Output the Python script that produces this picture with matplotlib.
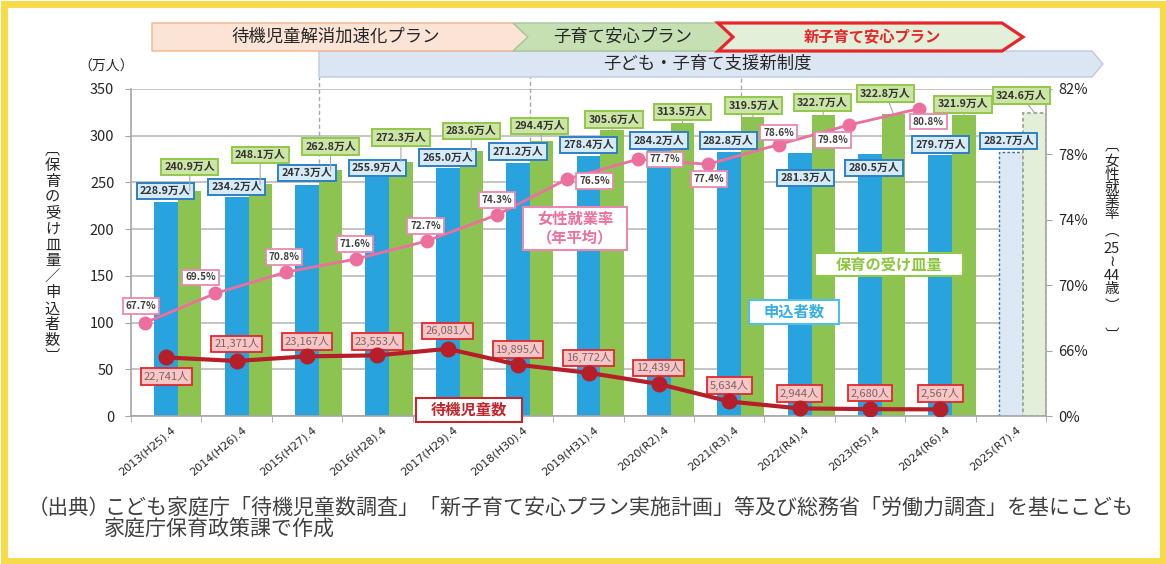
import numpy as np
import matplotlib.pyplot as plt
from matplotlib.patches import Polygon, Rectangle
from matplotlib.transforms import blended_transform_factory

plt.rcParams['font.family'] = ['Noto Sans CJK JP', 'DejaVu Sans']

# data
years = ['2013(H25).4', '2014(H26).4', '2015(H27).4', '2016(H28).4', '2017(H29).4',
         '2018(H30).4', '2019(H31).4', '2020(R2).4', '2021(R3).4', '2022(R4).4',
         '2023(R5).4', '2024(R6).4', '2025(R7).4']
applicants = [228.9, 234.2, 247.3, 255.9, 265.0, 271.2, 278.4, 284.2, 282.8, 281.3, 280.5, 279.7, 282.7]
capacity = [240.9, 248.1, 262.8, 272.3, 283.6, 294.4, 305.6, 313.5, 319.5, 322.7, 322.8, 321.9, 324.6]
female_rate = [67.7, 69.5, 70.8, 71.6, 72.7, 74.3, 76.5, 77.7, 77.4, 78.6, 79.8, 80.8]
waiting = [22741, 21371, 23167, 23553, 26081, 19895, 16772, 12439, 5634, 2944, 2680, 2567]

# label offsets in pixels (dx, dy) from each mark
blue_dx = [-1, 0, 0, 0, 0, 0, 0, 0, -1, 6, 4, 0, -2]
blue_dy = [11, 10, 12, 9, 11, 11, 11, 10, 11, -25, -14, 10, 11]
green_dx = [0, 0, 0, 0, 0, -2, 2, 0, 1, -1, -8, -1, -13]
green_dy = [24, 29, 24, 24, 20, 15, 11, 11, 12, 12, 21, 11, 17]
pink_dx = [-4, -15, -2, -1, -1, 0, 27, 27, 1, 0, -16, 9]
pink_dy = [17, 16, 15, 15, 15, 15, -2, 0, -15, 12, -15, -13]
red_dy = [-19, 17, 15, 14, 18, 15, 15, 16, 16, 15, 16, 16]

BLUE = '#29a3dd'
GREEN = '#8dc451'
PINK = '#ec6f9d'
RED = '#b61f29'
TXT = '#262626'

W, H = 1166, 564


def fx(p):
    return p / W


def fy(p):
    return 1 - p / H


fig = plt.figure(figsize=(W / 100, H / 100), dpi=100)
fig.patch.set_facecolor('white')

ax = fig.add_axes([fx(131), fy(416), (1046 - 131) / W, (416 - 89) / H])
x = np.arange(len(years))

# bars (last year is the plan, drawn pale and dashed)
ax.bar(x[:-1], applicants[:-1], 0.34, color=BLUE, zorder=2)
ax.bar(x[:-1] + 0.335, capacity[:-1], 0.33, color=GREEN, zorder=2)
ax.bar(x[-1], applicants[-1], 0.34, color='#dce9f5', edgecolor='#2e75b6',
       linestyle=(0, (2, 1.5)), linewidth=1, zorder=2)
ax.bar(x[-1] + 0.335, capacity[-1], 0.33, color='#e3efd9', edgecolor='#9aa58c',
       linestyle=(0, (2, 1.5)), linewidth=1.3, zorder=2)

ax.set_xlim(-0.5, 12.5)
ax.set_ylim(0, 350)
ax.set_yticks(np.arange(0, 351, 50))
ax.yaxis.grid(True, color='#c4c4c4', lw=1.4)
ax.set_axisbelow(True)
ax.set_xticks([])
ax.set_xticks(np.arange(-0.5, 13, 1), minor=True)
ax.tick_params(axis='x', which='minor', length=4, color='#a6a6a6')
ax.tick_params(axis='y', length=4, color='#a6a6a6', labelsize=10.5, pad=8, labelcolor=TXT)
for s in ['top', 'right']:
    ax.spines[s].set_visible(False)
for s in ['left', 'bottom']:
    ax.spines[s].set_color('#a6a6a6')
    ax.spines[s].set_linewidth(1.2)

tr = blended_transform_factory(ax.transData, ax.transAxes)
for i, lab in enumerate(years):
    ax.text(i + 0.07, -0.027, lab, transform=tr, rotation=40, ha='right', va='top',
            rotation_mode='anchor', fontsize=8, color=TXT, family='DejaVu Sans')

# dashed boundaries for the policy periods
for i in [2, 5, 8]:
    ax.plot([i + 0.165, i + 0.165], [capacity[i], 363], ls=(0, (3, 2)), color='#a8a8a8',
            lw=1, clip_on=False, zorder=1)

# female employment rate (right axis)
ax2 = ax.twinx()
ax2.set_ylim(62, 82)
ax2.set_yticks([62, 66, 70, 74, 78, 82], ['0%', '66%', '70%', '74%', '78%', '82%'])
ax2.tick_params(axis='y', length=4, color='#a6a6a6', labelsize=10.5, pad=5, labelcolor=TXT)
for s in ['top', 'left', 'bottom']:
    ax2.spines[s].set_visible(False)
ax2.spines['right'].set_color('#a6a6a6')
ax2.spines['right'].set_linewidth(1.2)
ax2.plot(x[:len(female_rate)] - 0.3, female_rate, color=PINK, lw=2, marker='o', ms=9, zorder=4)

# waiting children
ax3 = ax.twinx()
ax3.set_ylim(0, 127000)
ax3.axis('off')
ax3.plot(x[:len(waiting)], waiting, color=RED, lw=3, marker='o', ms=10.5, zorder=4)

# data labels
for i in range(len(years)):
    ax3.annotate(f'{applicants[i]:.1f}万人', xy=(x[i], applicants[i]), xycoords=ax.transData,
                 xytext=(blue_dx[i], blue_dy[i]), textcoords='offset pixels',
                 ha='center', va='center', fontsize=7.8, fontweight='bold', color='#333333',
                 bbox=dict(boxstyle='square,pad=0.3', fc='#d6ebf9', ec='#2f80c4', lw=1.4))
    ax3.annotate(f'{capacity[i]:.1f}万人', xy=(x[i] + 0.335, capacity[i]), xycoords=ax.transData,
                 xytext=(green_dx[i], green_dy[i]), textcoords='offset pixels',
                 ha='center', va='center', fontsize=7.8, fontweight='bold', color='#333333',
                 bbox=dict(boxstyle='square,pad=0.3', fc='#cce4a6', ec='#92c84a', lw=1.4),
                 arrowprops=dict(arrowstyle='-', color='#a8a8a8', lw=0.8, shrinkA=0, shrinkB=0))

for i, v in enumerate(female_rate):
    ax3.annotate(f'{v:.1f}%', xy=(x[i] - 0.3, v), xycoords=ax2.transData,
                 xytext=(pink_dx[i], pink_dy[i]), textcoords='offset pixels',
                 ha='center', va='center', fontsize=7.2, fontweight='bold', color='#404040',
                 bbox=dict(boxstyle='square,pad=0.28', fc='white', ec='#e889b0', lw=1.3))

for i, v in enumerate(waiting):
    ax3.annotate(f'{v:,}人', xy=(x[i], v), xycoords=ax3.transData,
                 xytext=(0, red_dy[i]), textcoords='offset pixels',
                 ha='center', va='center', fontsize=8, color='#806262',
                 bbox=dict(boxstyle='square,pad=0.25', fc='#f8c6c7', ec='#e3272d', lw=1.3))


# boxes and banners in pixel coordinates
def pbox(x0, y0, x1, y1, fc, ec, lw, z=2):
    fig.add_artist(Rectangle((fx(x0), fy(y1)), (x1 - x0) / W, (y1 - y0) / H,
                             transform=fig.transFigure, fc=fc, ec=ec, lw=lw, zorder=z))


def ppoly(pts, fc, ec, lw, z=1):
    fig.add_artist(Polygon([(fx(a), fy(b)) for a, b in pts], closed=True,
                           transform=fig.transFigure, fc=fc, ec=ec, lw=lw, zorder=z))


pbox(523, 207, 627, 250, 'white', '#e889b0', 1.5)
fig.text(fx(575), fy(228), '女性就業率\n（年平均）', ha='center', va='center', fontsize=11,
         fontweight='bold', color=PINK, linespacing=1.15, zorder=3)
pbox(416, 398, 522, 422, 'white', '#c0272d', 1.5)
fig.text(fx(469), fy(410), '待機児童数', ha='center', va='center', fontsize=11,
         fontweight='bold', color='#c0272d', zorder=3)
pbox(749, 300, 839, 324, 'white', '#52bde8', 1.5)
fig.text(fx(794), fy(312), '申込者数', ha='center', va='center', fontsize=11,
         fontweight='bold', color='#3aaee0', zorder=3)
pbox(815, 253, 963, 276, 'white', '#92c84a', 1.5)
fig.text(fx(889), fy(265), '保育の受け皿量', ha='center', va='center', fontsize=11,
         fontweight='bold', color='#8cc63f', zorder=3)

ppoly([(319, 51), (1092, 51), (1103, 64), (1092, 77), (319, 77)], '#dce6f2', '#b9cbe4', 1)
ppoly([(152, 23), (513, 23), (528, 37), (513, 51), (152, 51)], '#fbe4d6', '#f2b48c', 1)
ppoly([(513, 23), (718, 23), (733, 37), (718, 51), (513, 51), (528, 37)], '#c6e0b4', '#a7c596', 1)
ppoly([(718, 23), (1002, 23), (1023, 37), (1002, 51), (718, 51), (733, 37)], '#e2f0d9', '#e8262a', 2.3)
fig.text(fx(336), fy(37), '待機児童解消加速化プラン', ha='center', va='center', fontsize=12.5,
         color=TXT, zorder=3)
fig.text(fx(623), fy(37), '子育て安心プラン', ha='center', va='center', fontsize=12.5,
         color=TXT, zorder=3)
fig.text(fx(872), fy(37), '新子育て安心プラン', ha='center', va='center', fontsize=11,
         fontweight='bold', color='#e8262a', zorder=3)
fig.text(fx(707), fy(64), '子ども・子育て支援新制度', ha='center', va='center', fontsize=12.5,
         color=TXT, zorder=3)

fig.text(fx(106), fy(67), '（万人）', ha='center', va='center', fontsize=10, color=TXT)


# vertical axis titles, written as stacked columns with vertical bracket forms
def vtext(xp, yp, rows, size, ls=1.0):
    fig.text(fx(xp), fy(yp), '\n'.join(rows), ha='center', va='center', fontsize=size,
             color=TXT, linespacing=ls)


vtext(52.5, 253, ['︹'] + list('保育の受け皿量／申込者数') + ['︺'], 11, 0.92)

vtext(1112, 145, ['︹'], 10.5)
vtext(1112, 188, list('女性就業率'), 10.5, 0.9)
vtext(1112, 231, ['︵'], 10.5)
vtext(1112, 269, ['25', '≀', '44', '歳'], 10.5, 0.95)
vtext(1112, 306, ['︶'], 10.5)
vtext(1112, 336, ['︺'], 10.5)

# source note
fig.text(fx(28), fy(508), '（出典）', ha='left', va='center', fontsize=14.8, color='#404040')
fig.text(fx(104), fy(508), 'こども家庭庁「待機児童数調査」「新子育て安心プラン実施計画」等及び総務省「労働力調査」を基にこども',
         ha='left', va='center', fontsize=15.1, color='#404040')
fig.text(fx(104), fy(530), '家庭庁保育政策課で作成', ha='left', va='center', fontsize=15.1, color='#404040')

# yellow frame
fig.add_artist(Rectangle((fx(3.5), fy(560.5)), (W - 7) / W, (H - 7) / H, transform=fig.transFigure,
                         fill=False, ec='#f6da4a', lw=5, zorder=0))

fig.savefig('out.png', dpi=100)
